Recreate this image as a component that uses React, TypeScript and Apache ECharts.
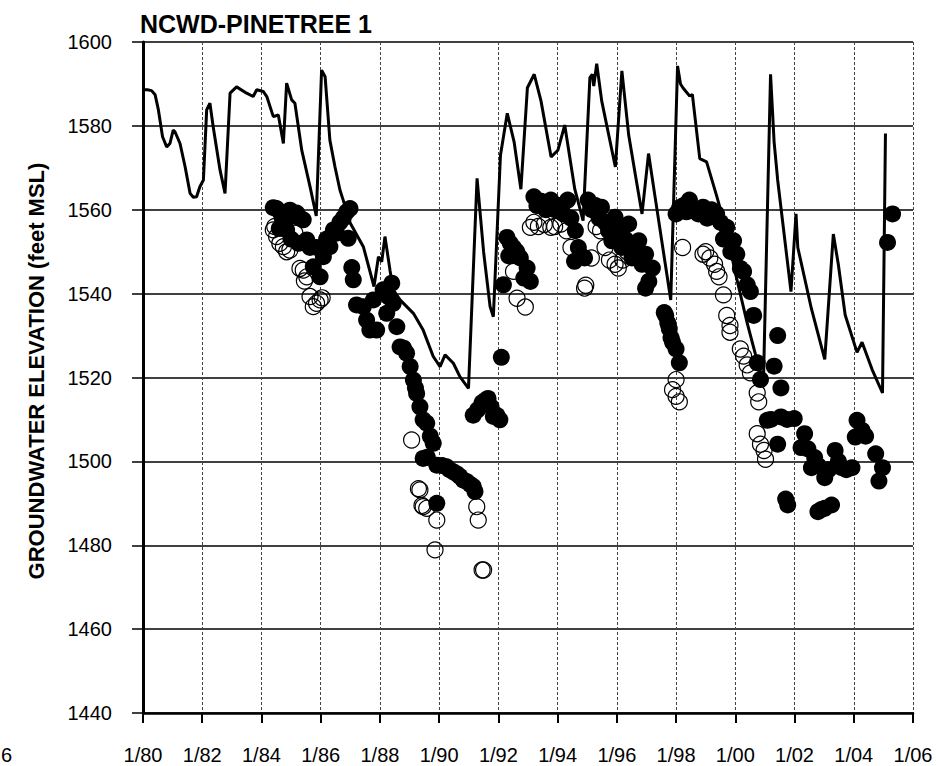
import React, { useEffect, useRef } from "react";
import * as echarts from "echarts";

const titleText = "NCWD-PINETREE 1";
const yAxisTitle = "GROUNDWATER ELEVATION (feet MSL)";
const xMin = 1980;
const xMax = 2006;
const xStep = 2;
const yMin = 1440;
const yMax = 1600;
const yStep = 20;

// simulated / continuous water level line [year, elevation]
const lineData: [number, number][] = [
  [1980.0, 1588.6], [1980.15, 1588.6], [1980.29, 1588.4], [1980.41, 1587.4], [1980.52, 1583.8],
  [1980.66, 1577.4], [1980.8, 1575.0], [1980.91, 1575.8], [1981.02, 1579.0], [1981.08, 1578.6],
  [1981.25, 1575.8], [1981.42, 1570.3], [1981.59, 1563.9], [1981.7, 1563.0], [1981.81, 1563.1],
  [1981.92, 1565.5], [1982.04, 1567.1], [1982.15, 1583.8], [1982.26, 1585.4], [1982.37, 1579.8],
  [1982.6, 1569.5], [1982.77, 1563.9], [1982.94, 1587.8], [1983.16, 1589.3], [1983.5, 1587.8],
  [1983.72, 1587.0], [1983.84, 1588.6], [1984.06, 1588.2], [1984.18, 1587.0], [1984.4, 1582.2],
  [1984.57, 1582.6], [1984.74, 1575.8], [1984.85, 1590.2], [1985.02, 1586.2], [1985.13, 1585.4],
  [1985.36, 1574.2], [1985.64, 1565.5], [1985.85, 1558.5], [1986.03, 1593.3], [1986.15, 1591.7],
  [1986.31, 1576.6], [1986.48, 1570.3], [1986.65, 1564.7], [1986.76, 1562.3], [1987.0, 1556.8],
  [1987.44, 1551.2], [1987.8, 1541.7], [1987.95, 1548.8], [1988.06, 1547.6], [1988.17, 1553.6],
  [1988.34, 1545.6], [1988.45, 1540.9], [1988.68, 1538.5], [1989.13, 1535.3], [1989.46, 1531.3],
  [1989.8, 1525.0], [1990.03, 1522.6], [1990.2, 1525.4], [1990.48, 1523.4], [1990.7, 1520.2],
  [1990.99, 1517.4], [1991.28, 1567.5], [1991.5, 1550.0], [1991.72, 1536.9], [1991.83, 1534.5],
  [1992.07, 1573.0], [1992.3, 1583.0], [1992.53, 1576.2], [1992.76, 1564.9], [1992.98, 1589.1],
  [1993.21, 1592.3], [1993.44, 1585.9], [1993.78, 1572.6], [1994.01, 1574.2], [1994.24, 1580.2],
  [1994.58, 1564.9], [1994.86, 1557.4], [1995.09, 1591.5], [1995.17, 1592.3], [1995.22, 1589.5],
  [1995.32, 1594.8], [1995.49, 1585.9], [1995.95, 1570.2], [1996.17, 1593.1], [1996.4, 1577.8],
  [1996.63, 1568.1], [1996.85, 1559.0], [1997.07, 1573.4], [1997.32, 1561.7], [1997.82, 1538.5],
  [1998.05, 1594.3], [1998.15, 1590.0], [1998.23, 1589.1], [1998.46, 1587.1], [1998.55, 1587.5],
  [1998.8, 1572.2], [1999.03, 1571.4], [1999.37, 1563.3], [1999.7, 1555.0], [2000.0, 1545.0],
  [2000.4, 1533.0], [2000.7, 1525.0], [2000.95, 1519.0], [2001.19, 1592.3], [2001.31, 1576.2],
  [2001.43, 1567.1], [2001.88, 1540.5], [2002.05, 1559.0], [2002.11, 1551.0], [2002.57, 1536.4],
  [2003.02, 1524.3], [2003.31, 1554.2], [2003.48, 1546.9], [2003.71, 1534.9], [2004.11, 1526.0],
  [2004.28, 1528.4], [2004.62, 1521.9], [2004.97, 1516.3], [2005.07, 1578.2],
];

// measured levels, filled symbols
const filledPoints: [number, number][] = [
  [1984.4, 1560.5], [1984.51, 1560.3], [1984.62, 1559.5], [1984.7, 1558.0], [1984.8, 1559.0],
  [1984.96, 1559.9], [1985.08, 1558.5], [1985.19, 1559.2], [1985.3, 1558.0], [1985.41, 1557.6],
  [1984.6, 1555.5], [1984.85, 1555.2], [1985.0, 1553.0], [1985.25, 1552.0], [1985.53, 1552.8],
  [1985.64, 1551.0], [1985.75, 1546.4], [1985.86, 1551.0], [1985.98, 1544.0], [1986.09, 1548.8],
  [1986.2, 1553.0], [1986.31, 1551.2], [1986.43, 1555.2], [1986.54, 1554.4], [1986.65, 1557.0],
  [1986.76, 1558.0], [1986.88, 1559.5], [1986.99, 1560.3], [1986.93, 1553.2], [1987.05, 1546.2],
  [1987.1, 1543.3], [1987.21, 1537.3], [1987.44, 1536.9], [1987.55, 1533.7], [1987.66, 1531.3],
  [1987.78, 1538.5], [1987.89, 1531.3], [1988.11, 1540.9], [1988.23, 1535.3], [1988.28, 1539.3],
  [1988.4, 1542.5], [1988.45, 1537.7], [1988.57, 1532.1], [1988.68, 1527.3], [1988.8, 1527.0],
  [1988.9, 1525.8], [1989.02, 1522.6], [1989.13, 1519.4], [1989.2, 1517.5], [1989.24, 1516.2],
  [1989.35, 1513.0], [1989.46, 1509.9], [1989.58, 1509.1], [1989.7, 1506.0], [1989.8, 1504.3],
  [1989.46, 1500.7], [1989.6, 1501.0], [1989.92, 1499.1], [1990.1, 1499.0], [1990.25, 1498.7],
  [1990.35, 1498.0], [1990.48, 1497.5], [1990.6, 1497.0], [1990.7, 1496.4], [1990.82, 1495.5],
  [1990.93, 1495.2], [1991.05, 1494.5], [1991.15, 1494.0], [1991.21, 1492.8], [1989.92, 1490.0],
  [1991.15, 1511.0], [1991.3, 1512.3], [1991.45, 1514.0], [1991.55, 1514.5], [1991.65, 1515.0],
  [1991.75, 1513.0], [1991.83, 1510.7], [1991.95, 1511.0], [1992.05, 1509.9], [1992.1, 1524.8],
  [1992.17, 1542.1], [1992.29, 1553.4], [1992.4, 1552.0], [1992.51, 1551.0], [1992.62, 1550.0],
  [1992.74, 1548.5], [1992.86, 1543.7], [1992.97, 1546.1], [1993.08, 1542.9], [1992.35, 1549.0],
  [1993.2, 1563.1], [1993.3, 1561.0], [1993.45, 1562.0], [1993.6, 1560.0], [1993.77, 1562.3],
  [1993.9, 1560.0], [1994.05, 1561.0], [1994.2, 1559.0], [1994.34, 1562.3], [1994.45, 1558.0],
  [1994.57, 1547.7], [1994.7, 1551.0], [1994.8, 1549.0], [1994.91, 1548.5], [1994.6, 1555.0],
  [1995.03, 1562.3], [1995.15, 1560.0], [1995.28, 1561.0], [1995.4, 1558.0], [1995.48, 1560.6],
  [1995.6, 1557.0], [1995.72, 1555.0], [1995.83, 1552.6], [1995.94, 1558.2], [1996.05, 1556.0],
  [1996.17, 1551.0], [1996.28, 1553.0], [1996.4, 1556.6], [1996.51, 1548.5], [1996.62, 1551.0],
  [1996.74, 1552.6], [1996.85, 1547.0], [1996.97, 1549.4], [1996.97, 1541.3], [1997.08, 1542.9],
  [1997.2, 1546.1], [1997.6, 1535.5], [1997.65, 1534.8], [1997.72, 1533.0], [1997.77, 1531.6],
  [1997.83, 1529.5], [1997.88, 1528.4], [1998.0, 1526.8], [1998.11, 1523.5], [1998.0, 1559.0],
  [1998.12, 1560.5], [1998.25, 1561.0], [1998.35, 1559.5], [1998.45, 1562.3], [1998.6, 1560.0],
  [1998.75, 1559.0], [1998.91, 1560.6], [1999.05, 1558.0], [1999.2, 1560.0], [1999.37, 1559.0],
  [1999.5, 1557.0], [1999.6, 1553.0], [1999.71, 1555.8], [1999.85, 1550.0], [1999.94, 1552.6],
  [2000.05, 1549.4], [2000.17, 1546.0], [2000.28, 1545.3], [2000.4, 1542.1], [2000.51, 1540.5],
  [2000.62, 1534.8], [2000.74, 1523.5], [2000.85, 1519.5], [2001.08, 1509.8], [2001.2, 1510.0],
  [2001.31, 1522.7], [2001.43, 1530.0], [2001.54, 1517.5], [2001.43, 1504.1], [2001.54, 1510.6],
  [2001.75, 1510.0], [2001.99, 1510.2], [2002.22, 1503.3], [2002.34, 1506.6], [2002.45, 1503.0],
  [2002.57, 1498.5], [2002.68, 1500.9], [2002.8, 1499.0], [2003.02, 1496.1], [2003.15, 1498.0],
  [2003.37, 1502.6], [2003.48, 1500.0], [2003.59, 1498.5], [2003.75, 1498.0], [2003.94, 1498.5],
  [2004.05, 1505.8], [2004.11, 1509.8], [2004.28, 1507.4], [2004.4, 1506.0], [2004.74, 1501.8],
  [2004.85, 1495.3], [2004.97, 1498.5], [2001.77, 1489.6], [2001.7, 1491.0], [2002.79, 1488.0],
  [2003.02, 1488.8], [2003.25, 1489.6], [2002.9, 1488.5], [2005.14, 1552.2], [2005.31, 1559.0],
];

// measured levels, open symbols
const openPoints: [number, number][] = [
  [1984.4, 1555.2], [1984.45, 1556.0], [1984.51, 1553.6], [1984.62, 1552.0], [1984.74, 1551.2],
  [1984.85, 1550.0], [1984.96, 1550.4], [1985.13, 1554.4], [1985.3, 1546.0], [1985.41, 1545.6],
  [1985.45, 1543.0], [1985.53, 1544.0], [1985.64, 1539.3], [1985.75, 1536.9], [1985.86, 1537.7],
  [1985.98, 1538.5], [1986.05, 1539.0], [1989.07, 1505.1], [1989.3, 1493.5], [1989.35, 1493.2],
  [1989.42, 1489.5], [1989.46, 1489.2], [1989.58, 1488.8], [1989.92, 1486.0], [1989.86, 1478.9],
  [1991.27, 1489.2], [1991.32, 1486.0], [1991.45, 1474.1], [1991.5, 1474.1], [1992.51, 1545.3],
  [1992.63, 1538.9], [1992.91, 1536.8], [1993.08, 1555.8], [1993.2, 1557.0], [1993.35, 1556.0],
  [1993.55, 1556.5], [1993.77, 1555.8], [1993.9, 1556.0], [1994.11, 1556.6], [1994.3, 1555.0],
  [1994.45, 1551.0], [1994.91, 1541.3], [1994.95, 1542.0], [1995.14, 1548.5], [1995.3, 1556.0],
  [1995.45, 1555.0], [1995.6, 1551.0], [1995.75, 1548.0], [1995.94, 1547.0], [1996.05, 1546.1],
  [1996.2, 1548.0], [1996.35, 1550.0], [1998.22, 1551.0], [1998.0, 1519.5], [1997.88, 1517.1],
  [1998.0, 1515.5], [1998.11, 1514.2], [1998.91, 1549.4], [1999.0, 1550.0], [1999.14, 1548.5],
  [1999.3, 1547.0], [1999.37, 1545.3], [1999.45, 1544.0], [1999.6, 1539.7], [1999.71, 1534.8],
  [1999.82, 1532.4], [1999.82, 1530.8], [2000.17, 1526.8], [2000.28, 1525.1], [2000.4, 1523.0],
  [2000.51, 1521.1], [2000.74, 1516.3], [2000.79, 1514.2], [2000.74, 1506.6], [2000.85, 1504.1],
  [2000.97, 1502.6], [2001.02, 1500.5],
];

const fmtX = (v: number) => "1/" + String(Math.round(v) % 100).padStart(2, "0");
const fmtY = (v: number) => String(v);

export default function App() {
  const ref = useRef<HTMLDivElement>(null);
  useEffect(() => {
    document.body.style.margin = "0";
    const chart = echarts.init(ref.current!, null, { renderer: "svg" });
    const font = "Liberation Sans, Arial, sans-serif";
    chart.setOption({
      animation: false,
      backgroundColor: "#ffffff",
      textStyle: { fontFamily: font, color: "#000" },
      title: {
        text: titleText,
        left: 140,
        top: 11,
        padding: 0,
        textStyle: { fontFamily: font, fontSize: 25, fontWeight: "bold", color: "#000" },
      },
      grid: { left: 143, top: 42, width: 770, height: 671, containLabel: false },
      xAxis: {
        type: "value",
        min: xMin,
        max: xMax,
        interval: xStep,
        axisLine: { show: true, lineStyle: { color: "#000", width: 2.5 } },
        axisTick: { show: true, length: 10, lineStyle: { color: "#000", width: 2 } },
        axisLabel: { margin: 32, fontSize: 20, color: "#000", fontFamily: font, formatter: fmtX },
        splitLine: { show: true, lineStyle: { color: "#444", width: 1, type: [3, 2] } },
      },
      yAxis: {
        type: "value",
        min: yMin,
        max: yMax,
        interval: yStep,
        axisLine: { show: true, lineStyle: { color: "#000", width: 3 } },
        axisTick: { show: true, length: 11, lineStyle: { color: "#000", width: 1.5 } },
        axisLabel: { margin: 31, fontSize: 20, color: "#000", fontFamily: font, formatter: fmtY },
        splitLine: { show: true, lineStyle: { color: "#000", width: 1.6 } },
      },
      graphic: [
        {
          type: "text",
          x: 36,
          y: 371,
          rotation: Math.PI / 2,
          style: {
            text: yAxisTitle,
            fill: "#000",
            font: "bold 22px Liberation Sans, Arial, sans-serif",
            textAlign: "center",
            textVerticalAlign: "middle",
          },
        },
        {
          type: "text",
          x: 1,
          y: 755,
          style: {
            text: "6",
            fill: "#000",
            font: "20px Liberation Sans, Arial, sans-serif",
            textAlign: "left",
            textVerticalAlign: "middle",
          },
        },
      ],
      series: [
        {
          type: "scatter",
          data: openPoints,
          symbol: "circle",
          symbolSize: 16,
          itemStyle: { color: "rgba(255,255,255,0)", borderColor: "#000", borderWidth: 1.2, opacity: 1 },
          z: 2,
        },
        {
          type: "scatter",
          data: filledPoints,
          symbol: "circle",
          symbolSize: 17,
          itemStyle: { color: "#000", borderColor: "#000", borderWidth: 0, opacity: 1 },
          z: 3,
        },
        {
          type: "line",
          data: lineData,
          showSymbol: false,
          symbol: "none",
          lineStyle: { color: "#000", width: 3 },
          z: 4,
        },
      ],
    });
    return () => chart.dispose();
  }, []);
  return <div ref={ref} style={{ width: 936, height: 766 }} />;
}
